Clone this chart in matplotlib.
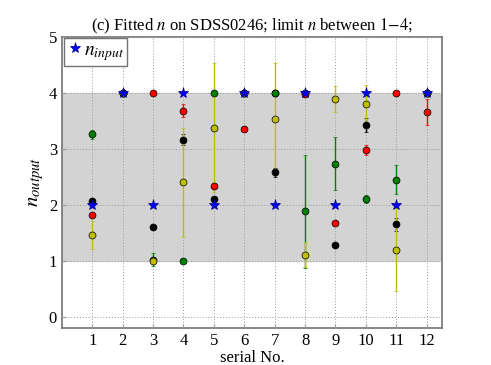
#!/usr/bin/env python3
"""
Fitted Sersic n per serial number, with the input n as stars
"""

import matplotlib
matplotlib.use('Agg')
import matplotlib.pyplot as plt
import numpy as np

serial = [1, 2, 3, 4, 5, 6, 7, 8, 9, 10, 11, 12]
n_input = [2, 4, 2, 4, 2, 4, 2, 4, 2, 4, 2, 4]

black_n = [2.065, 4.0, 1.61, 3.16, 2.10, 4.0, 2.58, 4.0, 1.28, 3.42, 1.65, 4.0]
black_err = [0.05, 0.0, 0.02, 0.10, 0.04, 0.0, 0.08, 0.0, 0.02, 0.12, 0.12, 0.0]

red_n = [1.81, 4.0, 4.0, 3.68, 2.33, 3.35, 4.0, 3.97, 1.68, 2.98, 4.0, 3.65]
red_err = [0.03, 0.0, 0.0, 0.11, 0.05, 0.06, 0.0, 0.03, 0.02, 0.09, 0.0, 0.23]

green_n = [3.26, 4.0, 1.02, 1.0, 4.0, 4.0, 4.0, 1.88, 2.73, 2.11, 2.45, 4.0]
green_err = [0.08, 0.0, 0.12, 0.0, 0.0, 0.0, 0.0, 1.0, 0.47, 0.07, 0.25, 0.0]

yellow_n = [1.46, 4.0, 1.0, 2.40, 3.375, 4.0, 3.535, 1.11, 3.885, 3.80, 1.20, 4.0]
yellow_err = [0.25, 0.0, 0.05, 0.97, 1.15, 0.0, 1.0, 0.22, 0.24, 0.33, 0.74, 0.0]

plt.rcParams['font.family'] = ['Liberation Serif', 'DejaVu Serif']
plt.rcParams['mathtext.fontset'] = 'stix'

fig = plt.figure(figsize=(4.91, 3.65), dpi=100)
ax = fig.add_axes([0.126, 0.101, 0.774, 0.799])

ax.axhspan(1, 4, color='lightgray', zorder=0)

series = [
    (black_n, black_err, 'k'),
    (red_n, red_err, 'r'),
    (green_n, green_err, 'g'),
    (yellow_n, yellow_err, 'y'),
]
for vals, errs, c in series:
    ax.errorbar(serial, vals, yerr=errs, fmt='o', color=c, ecolor=c,
                mec='k', mew=0.5, ms=5, elinewidth=1, capsize=1.5, zorder=3)

ax.plot(serial, n_input, '*', color='b', mec='navy', mew=0.5, ms=8,
        label='$n_{input}$', zorder=4)

ax.set_xlim(0, 12.5)
ax.set_ylim(-0.2, 5)
ax.set_xticks(serial)
ax.set_yticks(np.arange(0, 6))
ax.grid(True, linestyle=(0, (1, 2)), color='0.6', linewidth=0.7)
ax.set_axisbelow(False)
for s in ax.spines.values():
    s.set_color('0.45')
    s.set_linewidth(1.2)
ax.tick_params(direction='in', labelsize=12, length=3, color='0.6')

ax.set_xlabel('serial No.', fontsize=12, labelpad=1)
ax.set_ylabel('$n_{output}$', fontsize=15, labelpad=2)
ax.set_title('(c) Fitted $n$ on SDSS0246; limit $n$ between $1\\!-\\!4$;',
             fontsize=12, pad=3)

leg = ax.legend(loc='upper left', numpoints=1, fontsize=14, handletextpad=0.0,
                borderpad=0.15, borderaxespad=0.1, handlelength=0.9,
                fancybox=False, framealpha=1)
leg.get_frame().set_edgecolor('0.45')

fig.savefig('out.png', dpi=100)
